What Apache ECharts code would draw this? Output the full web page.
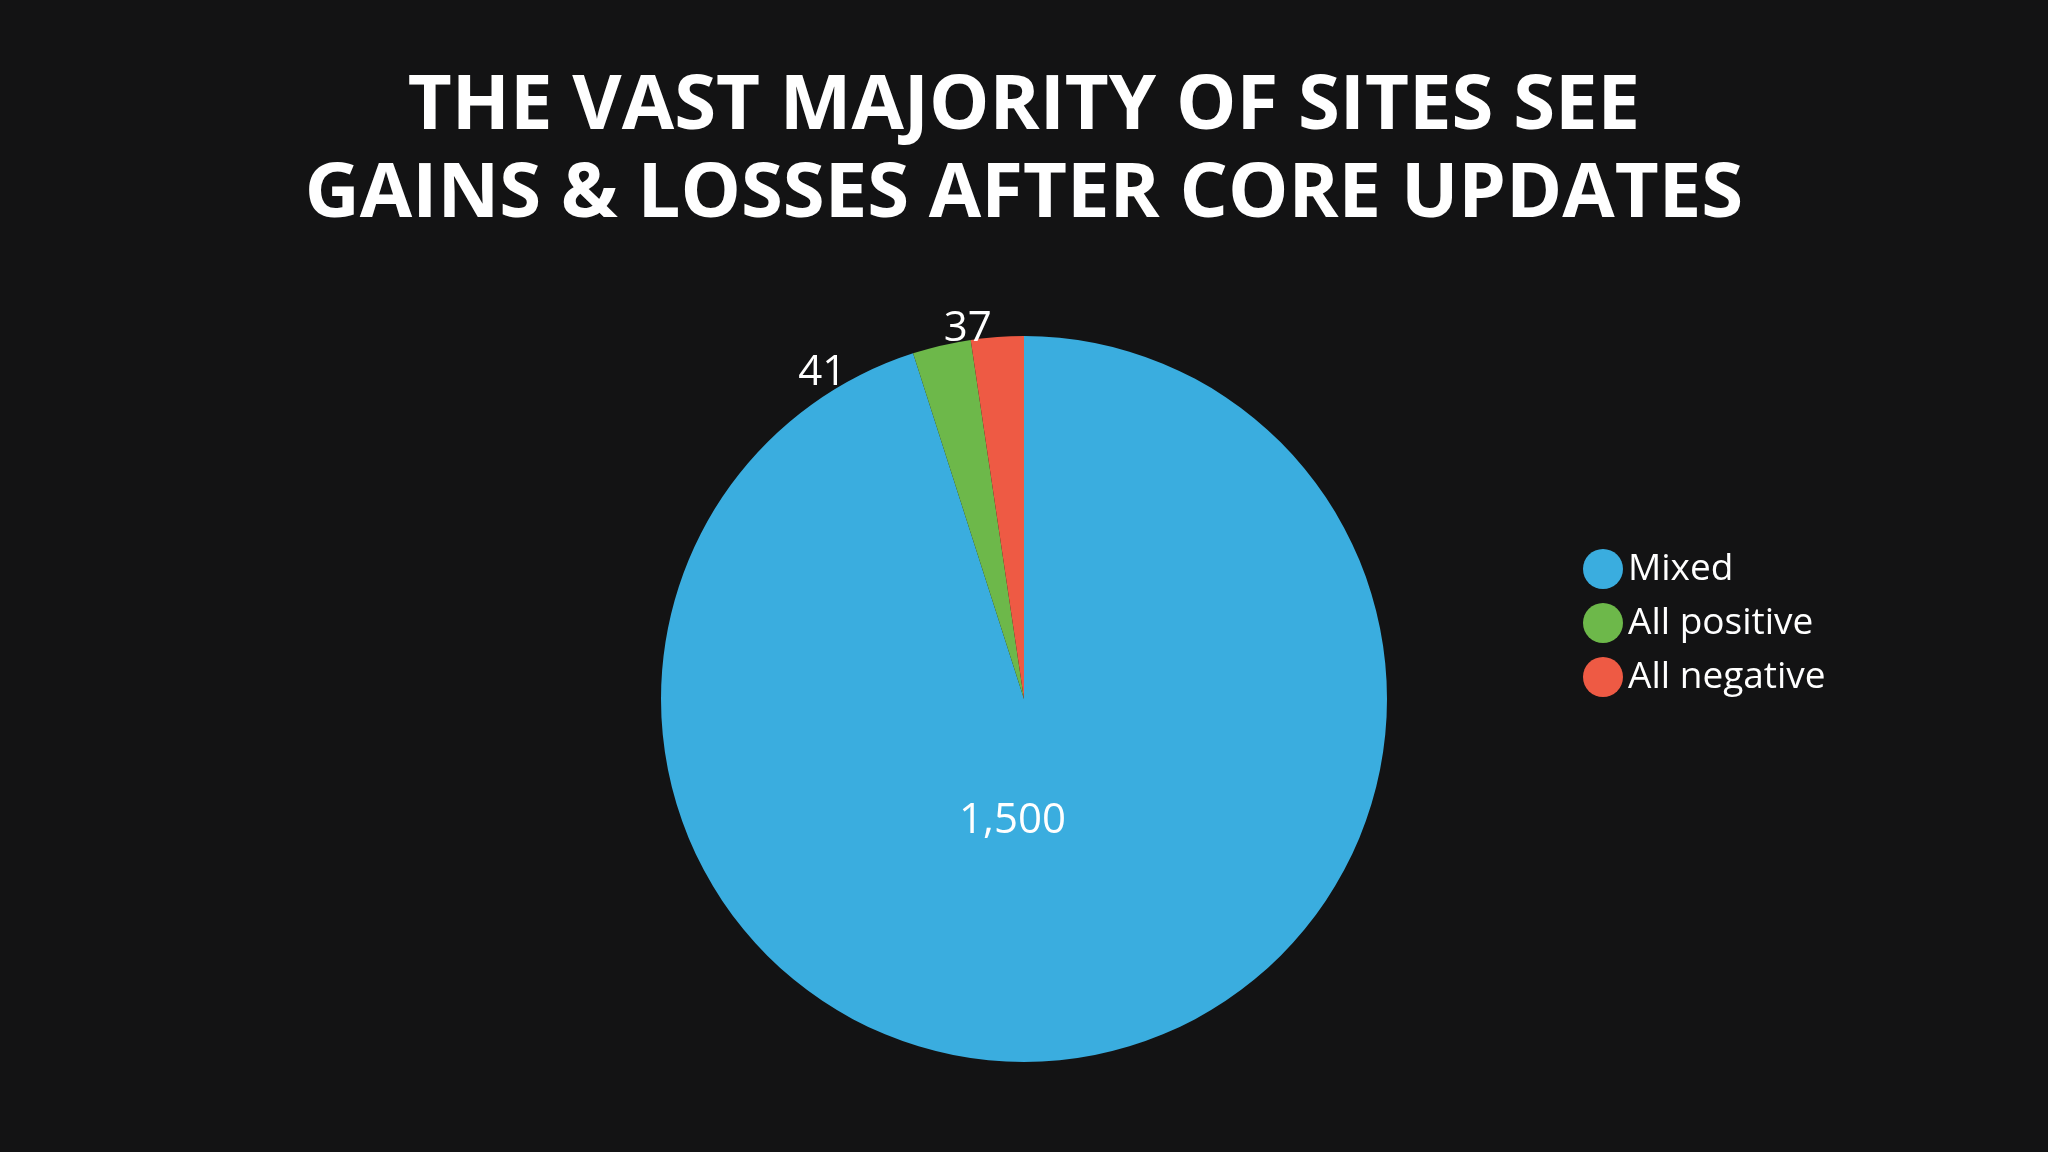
<!DOCTYPE html>
<html>
<head>
<meta charset="utf-8">
<script src="https://cdn.jsdelivr.net/npm/echarts@6/dist/echarts.min.js"></script>
<style>
html, body { margin: 0; padding: 0; background: #131314; }
#chart { width: 2048px; height: 1152px; }
</style>
</head>
<body>
<div id="chart"></div>
<script>
// data
var categories = ['Mixed', 'All positive', 'All negative'];
var values = [1500, 41, 37];
var colors = ['#3aaddf', '#6db84a', '#ee5a44'];

var seriesData = [];
for (var i = 0; i < categories.length; i++) {
	seriesData.push({
		name: categories[i],
		value: values[i],
		itemStyle: { color: colors[i] },
		label: i === 0 ? { position: 'inside', offset: [-40, -60] } : { position: 'outside' }
	});
}

var chart = echarts.init(document.getElementById('chart'));
chart.setOption({
	backgroundColor: '#131314',
	title: {
		text: 'THE VAST MAJORITY OF SITES SEE\nGAINS & LOSSES AFTER CORE UPDATES',
		left: 'center',
		top: 58,
		textStyle: {
			color: '#ffffff',
			fontFamily: 'Open Sans',
			fontWeight: 'bold',
			fontSize: 76,
			lineHeight: 88
		}
	},
	legend: {
		orient: 'vertical',
		left: 1578,
		top: 544,
		icon: 'circle',
		itemWidth: 40,
		itemHeight: 40,
		itemGap: 14,
		data: categories,
		textStyle: {
			color: '#ffffff',
			fontFamily: 'Open Sans',
			fontSize: 37
		}
	},
	series: [{
		type: 'pie',
		center: [1024, 699],
		radius: [0, 363],
		startAngle: 90,
		clockwise: true,
		data: seriesData,
		label: {
			color: '#ffffff',
			fontFamily: 'Open Sans',
			fontSize: 42,
			formatter: function (p) { return p.value.toLocaleString('en-US'); }
		},
		labelLine: { show: false, length: 8, length2: 0 },
		emphasis: { disabled: true }
	}]
});
</script>
</body>
</html>
